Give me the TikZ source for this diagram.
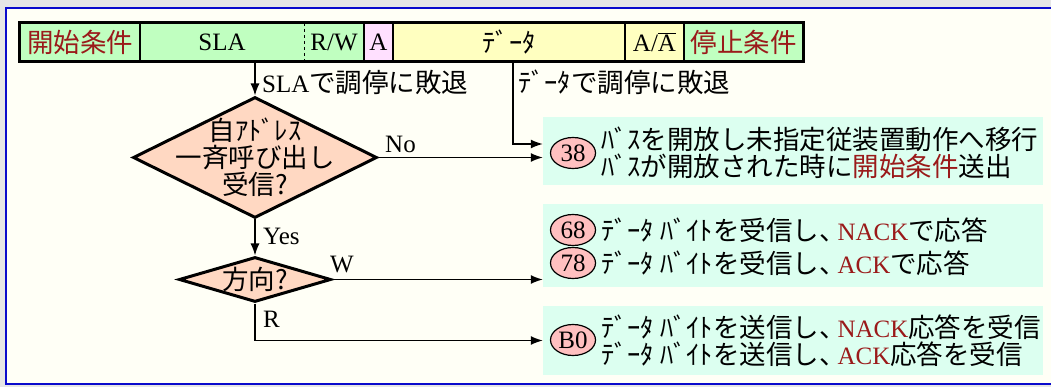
\documentclass[tikz,border=0pt]{standalone}
\usepackage{fontspec}
\setmainfont{Liberation Serif}
\newfontfamily\jp[Scale=1.06]{Noto Sans CJK JP}
\usepackage{xcolor}
\usetikzlibrary{arrows.meta,positioning,shapes.geometric}
\definecolor{pagegray}{HTML}{E6E6E6}
\definecolor{ivory}{HTML}{FFFFF6}
\definecolor{frameblue}{HTML}{0A0ACC}
\definecolor{fieldgreen}{HTML}{C0FFC0}
\definecolor{fieldpink}{HTML}{FFE0FF}
\definecolor{fieldyellow}{HTML}{FFFFC0}
\definecolor{peach}{HTML}{FFD8C2}
\definecolor{mint}{HTML}{DCFFF0}
\definecolor{codepink}{HTML}{FFC0C0}
\definecolor{deepred}{HTML}{9A1A1A}
\newcommand\hl[1]{\textcolor{deepred}{#1}}
\newcommand\tten{、\hspace{-8pt}}

\begin{document}
\begin{tikzpicture}[x=1pt,y=-1pt,
  font=\fontsize{25}{27}\selectfont,
  field/.style={rectangle,minimum height=38pt,inner sep=0pt},
  decision/.style={diamond,draw=black,line width=3pt,fill=peach,inner sep=0pt},
  resultbox/.style={rectangle,fill=mint,minimum width=500pt,inner sep=0pt},
  code/.style={ellipse,draw=black,line width=1.2pt,fill=codepink,minimum width=45pt,minimum height=31pt,inner sep=0pt},
  tag/.style={anchor=west,inner sep=0pt},
  flow/.style={-{Latex[length=12pt,width=9pt]},line width=1.4pt}]
\useasboundingbox (0,0) rectangle (1051,387);
\clip (0,0) rectangle (1051,387);
\fill[pagegray] (0,0) rectangle (1051,387);
\draw[frameblue,line width=2.2pt,fill=ivory] (6,8) rectangle (1070,384);

% frame fields
\node[field,fill=fieldgreen,minimum width=120pt] (f1) at (80,42) {\hl{\jp 開始条件}};
\node[field,fill=fieldgreen,minimum width=164pt] (f2) at (222,42) {SLA};
\node[field,fill=fieldgreen,minimum width=60pt] (f3) at (334,42) {R/W};
\node[field,fill=fieldpink,minimum width=29pt] (f4) at (378.5,42) {A};
\node[field,fill=fieldyellow,minimum width=232pt] (f5) at (509,42) {\jp ﾃﾞｰﾀ};
\node[field,fill=fieldyellow,minimum width=59pt] (f6) at (654.5,42) {A/$\overline{\hbox{A}}$};
\node[field,fill=fieldgreen,minimum width=119pt] (f7) at (743.5,42) {\hl{\jp 停止条件}};
\draw[line width=2pt] (f1.north east) -- (f1.south east);
\draw[line width=1.2pt,dashed] (f2.north east) -- (f2.south east);
\draw[line width=2pt] (f3.north east) -- (f3.south east);
\draw[line width=2pt] (f4.north east) -- (f4.south east);
\draw[line width=2pt] (f5.north east) -- (f5.south east);
\draw[line width=2pt] (f6.north east) -- (f6.south east);
\draw[line width=3pt] (f1.north west) rectangle (f7.south east);

% decisions
\node[decision,minimum width=244pt,minimum height=121pt] (q1) at (255,157.5) {};
\node[align=center,inner sep=0pt] (q1t) at (q1) {\jp 自ｱﾄﾞﾚｽ\\\jp 一斉呼び出し\\\jp 受信?};
\node[decision,minimum width=152pt,minimum height=45pt] (q2) at (255,279.5) {};
\node[inner sep=0pt] (q2t) at (q2) {\jp 方向?};

% results
\node[resultbox,minimum height=68pt] (b1) at (793,151) {};
\node[resultbox,minimum height=83pt] (b2) at (793,245.5) {};
\node[resultbox,minimum height=69pt] (b3) at (793,340.5) {};
\node[code] (c38) at (573,153) {38};
\node[code] (c68) at (573,230) {68};
\node[code] (c78) at (573,263) {78};
\node[code] (cB0) at (573,340) {B0};
\node[tag,align=left] (t38) at (601,153) {\jp ﾊﾞｽを開放し未指定従装置動作へ移行\\\jp ﾊﾞｽが開放された時に\hl{開始条件}送出};
\node[tag] (t68) at (601,230) {\jp ﾃﾞｰﾀ ﾊﾞｲﾄを受信し\tten\hl{\rmfamily NACK}で応答};
\node[tag] (t78) at (601,263) {\jp ﾃﾞｰﾀ ﾊﾞｲﾄを受信し\tten\hl{\rmfamily ACK}で応答};
\node[tag,align=left] (tB0) at (601,341) {\jp ﾃﾞｰﾀ ﾊﾞｲﾄを送信し\tten\hl{\rmfamily NACK}応答を受信\\\jp ﾃﾞｰﾀ ﾊﾞｲﾄを送信し\tten\hl{\rmfamily ACK}応答を受信};

% connectors
\coordinate (d0) at (513,61);
\coordinate (b1a) at ([yshift=7pt]b1.west);
\draw[flow] (q1 |- f2.south) -- (q1.north);
\draw[flow] (d0) |- (b1a);
\draw[flow] (q1.east) -- (q1.east -| b1.west);
\draw[flow] (q1.south) -- (q2.north);
\draw[flow] (q2.east) -- (q2.east -| b2.west);
\draw[flow] (q2.south) |- (b3.west);

% labels
\node[tag] (l1) at (262,82) {SLA{\jp で調停に敗退}};
\node[tag] (l2) at (518,82) {\jp ﾃﾞｰﾀで調停に敗退};
\node[tag] (lno) at (385,144) {No};
\node[tag] (lyes) at (263,236) {Yes};
\node[tag] (lw) at (330,265) {W};
\node[tag] (lr) at (263,319) {R};
\end{tikzpicture}
\end{document}
